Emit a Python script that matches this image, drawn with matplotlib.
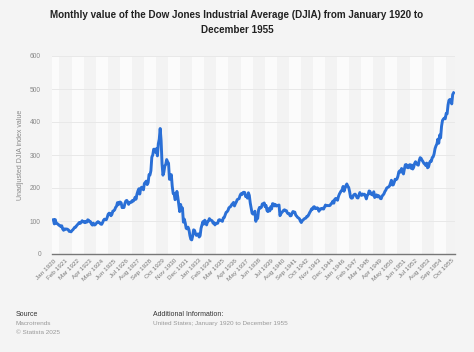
import matplotlib
matplotlib.use("Agg")
import matplotlib.pyplot as plt
import numpy as np

plt.rcParams["font.family"] = ["Liberation Sans", "DejaVu Sans"]

years = list(range(1920, 1956))
months = ["Jan", "Feb", "Mar", "Apr", "May", "Jun", "Jul", "Aug", "Sep", "Oct", "Nov", "Dec"]

djia_1920 = [103.9, 91.2, 104.2, 93.5, 91.8, 90.8, 86.9, 86.2, 82.9, 85.5, 76.0, 71.9]
djia_1921 = [76.1, 74.9, 75.8, 75.1, 73.4, 68.5, 68.8, 67.1, 71.1, 73.4, 77.3, 81.1]
djia_1922 = [81.3, 85.8, 89.1, 92.9, 95.6, 92.9, 96.9, 100.8, 97.0, 98.2, 95.0, 98.7]
djia_1923 = [96.6, 103.6, 102.1, 98.0, 97.7, 90.8, 87.6, 93.5, 87.9, 88.5, 92.3, 95.5]
djia_1924 = [98.0, 96.3, 93.3, 90.6, 89.9, 95.3, 102.1, 105.6, 103.9, 104.1, 111.4, 120.5]
djia_1925 = [123.6, 122.9, 116.0, 120.0, 129.9, 131.0, 134.0, 141.2, 144.8, 155.7, 149.2, 156.7]
djia_1926 = [157.4, 154.7, 140.5, 143.0, 140.9, 153.0, 160.6, 162.5, 158.2, 150.4, 155.9, 157.2]
djia_1927 = [156.6, 161.9, 160.1, 164.3, 172.0, 166.2, 181.4, 190.6, 197.6, 181.7, 198.2, 202.4]
djia_1928 = [198.6, 194.5, 213.9, 216.9, 220.9, 210.4, 216.0, 240.4, 239.4, 252.2, 293.4, 300.0]
djia_1929 = [317.5, 317.4, 308.5, 319.3, 297.4, 333.8, 347.7, 380.3, 343.5, 273.5, 238.9, 248.5]
djia_1930 = [267.1, 271.1, 286.1, 279.2, 275.1, 226.3, 233.5, 240.4, 204.9, 183.4, 183.4, 164.6]
djia_1931 = [167.6, 189.7, 172.4, 151.2, 128.5, 150.2, 135.4, 139.4, 96.6, 105.4, 93.9, 78.0]
djia_1932 = [76.2, 81.4, 73.3, 56.1, 44.7, 42.8, 54.3, 73.2, 71.6, 61.9, 56.4, 59.9]
djia_1933 = [60.9, 51.4, 55.4, 77.7, 88.1, 98.1, 90.8, 102.4, 94.8, 88.2, 98.1, 99.9]
djia_1934 = [107.2, 103.5, 101.9, 100.7, 93.4, 95.1, 88.1, 93.0, 92.6, 93.4, 102.9, 104.0]
djia_1935 = [101.7, 100.8, 98.9, 109.5, 110.6, 118.2, 126.2, 127.9, 131.9, 139.7, 142.3, 144.1]
djia_1936 = [149.5, 152.5, 156.3, 145.7, 152.6, 157.7, 164.9, 166.3, 167.8, 177.2, 182.5, 180.0]
djia_1937 = [185.7, 187.2, 186.4, 174.3, 175.7, 169.3, 185.5, 177.4, 154.6, 138.2, 123.5, 121.0]
djia_1938 = [121.9, 129.6, 99.0, 111.7, 107.7, 133.9, 141.2, 139.3, 141.5, 151.7, 149.8, 154.8]
djia_1939 = [143.3, 147.3, 131.8, 128.5, 137.7, 130.6, 143.0, 136.6, 152.5, 151.9, 145.7, 150.2]
djia_1940 = [145.3, 146.5, 147.5, 148.4, 116.2, 121.9, 126.1, 129.0, 132.6, 133.9, 131.0, 131.1]
djia_1941 = [124.1, 121.9, 122.7, 115.5, 116.2, 123.1, 128.8, 127.4, 126.8, 117.8, 114.7, 111.0]
djia_1942 = [109.1, 106.6, 99.5, 95.4, 100.9, 103.3, 106.2, 107.9, 109.1, 114.1, 114.5, 119.4]
djia_1943 = [125.6, 130.0, 136.6, 135.5, 142.1, 143.4, 137.4, 138.3, 140.1, 138.3, 129.6, 135.9]
djia_1944 = [137.4, 136.3, 138.8, 136.2, 142.2, 148.4, 146.1, 146.9, 146.7, 146.5, 147.3, 152.3]
djia_1945 = [153.8, 160.4, 154.1, 165.4, 168.3, 165.3, 162.9, 174.3, 181.7, 186.6, 191.7, 192.9]
djia_1946 = [204.7, 190.1, 199.6, 206.8, 212.3, 205.6, 201.6, 189.2, 172.4, 169.2, 169.8, 177.2]
djia_1947 = [180.4, 181.4, 177.2, 170.6, 169.7, 177.3, 186.1, 179.0, 177.5, 181.8, 179.4, 181.2]
djia_1948 = [175.1, 167.0, 177.2, 180.9, 191.1, 189.5, 181.3, 181.7, 178.3, 188.6, 171.2, 177.3]
djia_1949 = [179.1, 173.1, 177.1, 174.1, 168.4, 167.4, 175.9, 178.7, 182.5, 189.5, 193.6, 200.1]
djia_1950 = [201.8, 203.4, 206.1, 214.3, 223.4, 209.1, 209.4, 216.9, 226.4, 225.0, 227.6, 235.4]
djia_1951 = [248.8, 252.1, 247.9, 259.1, 250.0, 242.6, 257.9, 270.3, 271.2, 262.4, 261.3, 269.2]
djia_1952 = [270.7, 260.1, 269.5, 257.6, 262.9, 274.3, 279.6, 275.0, 270.6, 269.2, 283.7, 291.9]
djia_1953 = [289.8, 284.3, 279.9, 274.8, 272.3, 268.3, 275.4, 261.2, 264.0, 276.0, 281.4, 280.9]
djia_1954 = [292.4, 294.5, 303.5, 319.3, 327.5, 333.5, 347.9, 335.8, 360.5, 352.1, 386.8, 404.4]
djia_1955 = [408.8, 411.9, 409.7, 425.7, 424.9, 451.4, 465.9, 468.2, 466.6, 454.9, 483.3, 488.4]

yearly = [djia_1920, djia_1921, djia_1922, djia_1923, djia_1924, djia_1925, djia_1926,
          djia_1927, djia_1928, djia_1929, djia_1930, djia_1931, djia_1932, djia_1933,
          djia_1934, djia_1935, djia_1936, djia_1937, djia_1938, djia_1939, djia_1940,
          djia_1941, djia_1942, djia_1943, djia_1944, djia_1945, djia_1946, djia_1947,
          djia_1948, djia_1949, djia_1950, djia_1951, djia_1952, djia_1953, djia_1954,
          djia_1955]

values = [v for yr in yearly for v in yr]
labels = [f"{m} {y}" for y in years for m in months]
x = np.arange(len(values))

tick_step = 13
tick_idx = list(range(0, len(values), tick_step))
tick_labels = [labels[i] for i in tick_idx]

y_ticks = [0, 100, 200, 300, 400, 500, 600]

BG = "#f4f4f4"
fig = plt.figure(figsize=(4.74, 3.52), dpi=100, facecolor=BG)
ax = fig.add_axes([52 / 474, 1 - 254 / 352, (455 - 52) / 474, (254 - 56) / 352])
ax.set_facecolor("#fbfbfb")

x0, x1 = -1.5, len(values) + 0.5
# alternating vertical bands
for k, i in enumerate(tick_idx):
    if k % 2 == 1:
        ax.axvspan(i - tick_step / 2, i + tick_step / 2, color="#f3f3f3", lw=0, zorder=0)

ax.set_xlim(x0, x1)
ax.set_ylim(0, 600)
ax.set_yticks(y_ticks)
ax.set_yticklabels([str(v) for v in y_ticks])
ax.grid(axis="y", color="#e8e8e8", lw=0.7, zorder=1)
ax.set_axisbelow(True)

ax.plot(x, values, color="#2a6fd6", lw=2.1, zorder=3, solid_joinstyle="round")

for s in ["top", "right", "left"]:
    ax.spines[s].set_visible(False)
ax.spines["bottom"].set_color("#777777")
ax.spines["bottom"].set_linewidth(1.0)

ax.set_xticks(tick_idx)
ax.set_xticklabels(tick_labels, rotation=45, ha="right", rotation_mode="anchor",
                   fontsize=4.6, color="#777777")
ax.tick_params(axis="x", length=0, pad=3)
ax.tick_params(axis="y", length=0, pad=8, labelsize=4.8, labelcolor="#888888")

ax.set_ylabel("Unadjusted DJIA index value", fontsize=5.0, color="#888888", labelpad=4)

fig.text(0.5, 1 - 15 / 352, "Monthly value of the Dow Jones Industrial Average (DJIA) from January 1920 to",
         ha="center", va="center", fontsize=7.1, fontweight="bold", color="#222222")
fig.text(0.5, 1 - 30 / 352, "December 1955",
         ha="center", va="center", fontsize=7.1, fontweight="bold", color="#222222")

fig.text(16 / 474, 1 - 315 / 352, "Source", fontsize=5.0, color="#333333", va="center")
fig.text(16 / 474, 1 - 323.5 / 352, "Macrotrends", fontsize=4.6, color="#999999", va="center")
fig.text(16 / 474, 1 - 332 / 352, "\u00a9 Statista 2025", fontsize=4.6, color="#999999", va="center")
fig.text(153 / 474, 1 - 315 / 352, "Additional Information:", fontsize=5.0, color="#333333", va="center")
fig.text(153 / 474, 1 - 323.5 / 352, "United States; January 1920 to December 1955", fontsize=4.6,
         color="#999999", va="center")

fig.savefig("out.png", dpi=100, facecolor=BG)
